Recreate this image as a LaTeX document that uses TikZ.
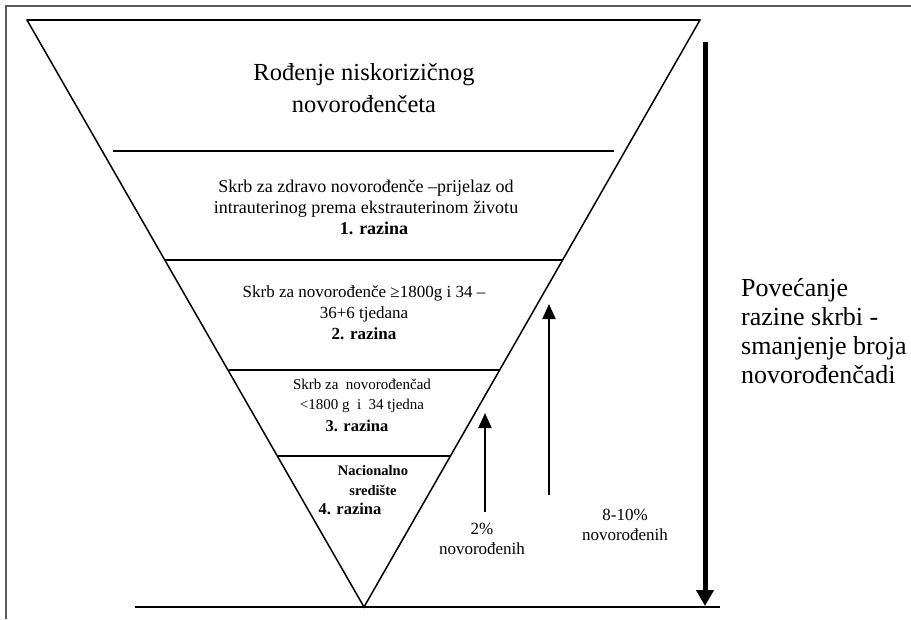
\documentclass[tikz,border=0pt]{standalone}
\usepackage{fontspec}
\setmainfont{Liberation Serif}
\usetikzlibrary{arrows.meta}
\begin{document}
\begin{tikzpicture}[x=1pt,y=-1pt,
  frame/.style={draw=black!65, line width=1.3pt},
  edge/.style={draw=black, line width=1.5pt},
  lvl/.style={draw=black, line width=1.5pt},
  bigtxt/.style={font=\fontsize{24.5}{32}\selectfont, align=center, inner sep=0pt},
  midtxt/.style={font=\fontsize{18}{21}\selectfont, align=center, inner sep=0pt},
  lvtwotxt/.style={font=\fontsize{17}{21}\selectfont, align=center, inner sep=0pt},
  smtxt/.style={font=\fontsize{15}{20}\selectfont, align=center, inner sep=0pt},
  pcttxt/.style={font=\fontsize{17}{20}\selectfont, align=center, inner sep=0pt},
  sidetxt/.style={font=\fontsize{26}{29}\selectfont, align=left, inner sep=0pt, anchor=west},
  uparrow/.style={draw=black, line width=2pt, -{Triangle[width=13pt,length=15pt]}},
  downarrow/.style={draw=black, line width=5pt, -{Triangle[width=17pt,length=16pt]}}]
\useasboundingbox (0,0) rectangle (911,619);
% frame
\draw[frame] (6,619) -- (6,6) -- (911,6);
% funnel
\coordinate (tl) at (27,20);
\coordinate (tr) at (700,20);
\coordinate (apex) at (364,607);
\draw[edge, line join=miter] (tl) -- (tr) -- (apex) -- cycle;
\draw[line width=2pt] (tl) -- (tr);
% base line
\coordinate (bl) at (135,607);
\coordinate (br) at (720,607);
\draw[lvl] (bl) -- (br);
% level separators
\draw[lvl] (113,151) -- (614,151);
\draw[lvl] (165,260) -- (562,260);
\draw[lvl] (229,370) -- (500,370);
\draw[lvl] (278,456) -- (450,456);
% texts
\node[bigtxt] (top) at (364,88) {Rođenje niskorizičnog\\novorođenčeta};
\node[midtxt] (l1) at (366,207) {Skrb za zdravo novorođenče –prijelaz od\\intrauterinog prema ekstrauterinom životu\\\hspace*{16pt}\textbf{1. razina}};
\node[lvtwotxt] (l2) at (364,313) {Skrb za novorođenče ≥1800g i 34 –\\36+6 tjedana\\\textbf{2. razina}};
\node[smtxt] (l3a) at (362,396) {Skrb za\ \ novorođenčad\\<1800 g\ \ i\ \ 34 tjedna};
\node[font=\fontsize{16.5}{20}\selectfont\bfseries, inner sep=0pt] (l3b) at (357,426) {3. razina};
\node[font=\fontsize{14.5}{20}\selectfont\bfseries, align=center, inner sep=0pt] (l4a) at (373,481) {Nacionalno\\središte};
\node[font=\fontsize{16.5}{20}\selectfont\bfseries, inner sep=0pt] (l4b) at (350,509) {4. razina};
% arrows
\coordinate (a2s) at (485,512);
\coordinate (a2e) at (485,413);
\draw[uparrow] (a2s) -- (a2e);
\coordinate (a8s) at (549,495);
\coordinate (a8e) at (549,304);
\draw[uparrow] (a8s) -- (a8e);
\coordinate (bds) at (705,42);
\coordinate (bde) at (705,606);
\draw[downarrow] (bds) -- (bde);
\node[pcttxt] (p2) at (482,539) {2\%\\novorođenih};
\node[pcttxt] (p8) at (625,525) {8-10\%\\novorođenih};
\node[sidetxt] (side) at (741,331) {Povećanje\\razine skrbi -\\smanjenje broja\\novorođenčadi};
\end{tikzpicture}
\end{document}
